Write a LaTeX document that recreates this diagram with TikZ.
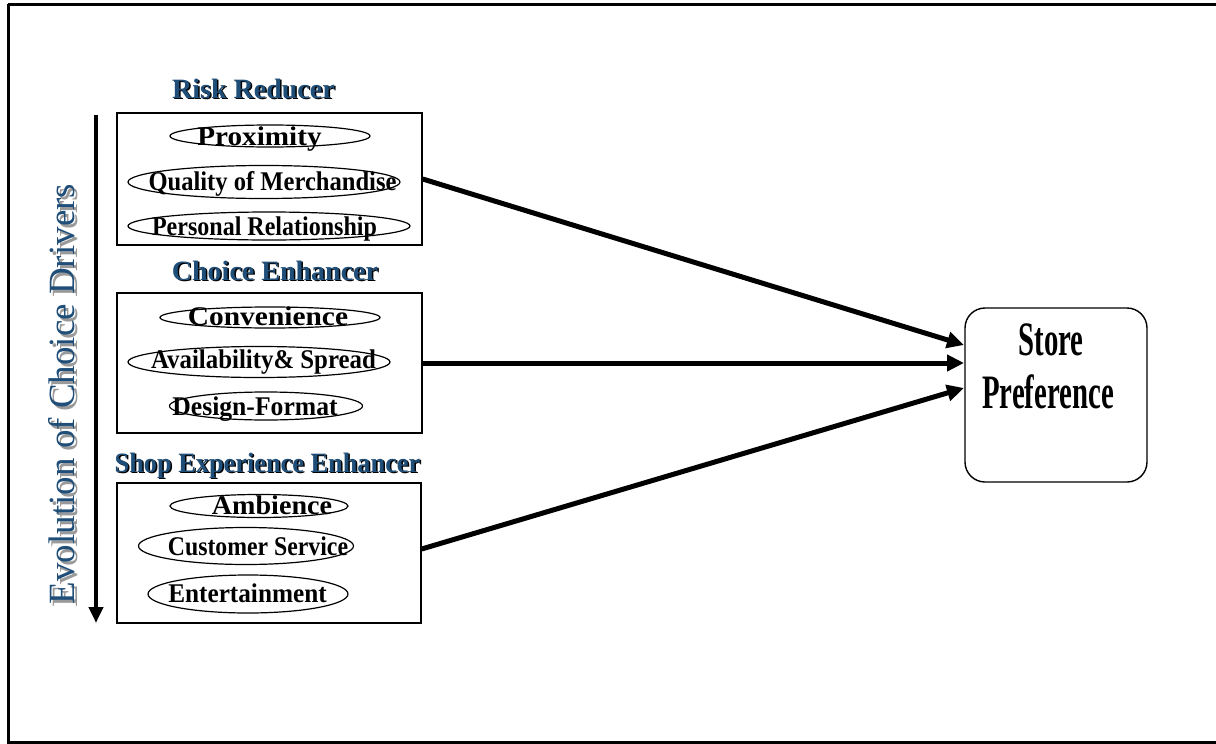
\documentclass[tikz,border=0pt]{standalone}
\usepackage{fontspec}
\usepackage{graphicx}
\setmainfont{Liberation Serif}
\usetikzlibrary{shapes.geometric,arrows.meta}
\definecolor{tblue}{HTML}{1F4E79}
\definecolor{shgray}{HTML}{9A9A9A}
\tikzset{
  frame/.style={draw=black, line width=3pt},
  groupbox/.style={draw=black, line width=1.4pt, rectangle, inner sep=0pt},
  oval/.style={draw=black, line width=1.2pt, ellipse, inner sep=0pt},
  ovaltext/.style={anchor=base, inner sep=0pt, font=\bfseries\fontsize{27}{30}\selectfont},
  titletext/.style={anchor=base, inner sep=0pt, text=tblue, font=\bfseries\fontsize{28}{32}\selectfont},
  titleshadow/.style={anchor=base, inner sep=0pt, text=black, font=\bfseries\fontsize{28}{32}\selectfont},
  flow/.style={line width=5pt, -{Triangle[length=17pt,width=16pt]}},
  storebox/.style={draw=black, line width=1.4pt, rounded corners=20pt, rectangle, inner sep=0pt},
  storetext/.style={anchor=base, inner sep=0pt, font=\bfseries\fontsize{48}{50}\selectfont}
}
\begin{document}
\begin{tikzpicture}[x=1pt,y=-1pt]
\useasboundingbox (0,0) rectangle (1216,744);
\draw[frame] (8,4) -- (1240,4);
\draw[frame] (8,4) -- (8,742.5) -- (1240,742.5);

% vertical arrow and label
\coordinate (vtop) at (96,115);
\coordinate (vbot) at (96,623);
\draw[line width=4pt, -{Triangle[length=16pt,width=14pt]}] (vtop) -- (vbot);
\node[anchor=base, rotate=90, inner sep=0pt, text=shgray, font=\fontsize{37}{40}\selectfont] (evs) at (77.5,397) {Evolution of Choice Drivers};
\node[anchor=base, rotate=90, inner sep=0pt, text=tblue, font=\fontsize{37}{40}\selectfont] (ev) at (74,394) {Evolution of Choice Drivers};

% group boxes
\node[groupbox, minimum width=305pt, minimum height=132pt] (b1) at (269.5,179) {};
\node[groupbox, minimum width=305pt, minimum height=140pt] (b2) at (269.5,363) {};
\node[groupbox, minimum width=304pt, minimum height=140pt] (b3) at (269,553) {};

% titles
\node[titleshadow] (t1s) at (255,99.5) {\scalebox{1.0}[1]{Risk Reducer}};
\node[titletext] (t1) at (253.5,98) {\scalebox{1.0}[1]{Risk Reducer}};
\node[titleshadow] (t2s) at (276.5,281.5) {Choice Enhancer};
\node[titletext] (t2) at (275,280) {Choice Enhancer};
\node[titleshadow] (t3s) at (269,473.5) {\scalebox{0.94}[1]{Shop Experience Enhancer}};
\node[titletext] (t3) at (267.5,472) {\scalebox{0.94}[1]{Shop Experience Enhancer}};

% ovals group 1
\node[oval, minimum width=200pt, minimum height=22pt] (e11) at (270,136) {};
\node[ovaltext] (x11) at (259.5,145) {\scalebox{1.08}[1]{Proximity}};
\node[oval, minimum width=272pt, minimum height=33pt] (e12) at (264,182) {};
\node[ovaltext] (x12) at (272.5,190) {\scalebox{0.91}[1]{Quality of Merchandise}};
\node[oval, minimum width=282pt, minimum height=28pt] (e13) at (269,226) {};
\node[ovaltext] (x13) at (264.5,235) {\scalebox{0.89}[1]{Personal Relationship}};

% ovals group 2
\node[oval, minimum width=220pt, minimum height=21pt] (e21) at (270,317.5) {};
\node[ovaltext] (x21) at (268,325) {\scalebox{1.09}[1]{Convenience}};
\node[oval, minimum width=262pt, minimum height=31pt] (e22) at (259,362) {};
\node[ovaltext] (x22) at (263.5,368) {\scalebox{0.92}[1]{Availability\& Spread}};
\node[oval, minimum width=193pt, minimum height=28pt] (e23) at (266,406) {};
\node[ovaltext] (x23) at (255,415) {\scalebox{0.95}[1]{Design-Format}};

% ovals group 3
\node[oval, minimum width=178pt, minimum height=23pt] (e31) at (259,506) {};
\node[ovaltext] (x31) at (272,514) {\scalebox{1.04}[1]{Ambience}};
\node[oval, minimum width=215pt, minimum height=37pt] (e32) at (246,546) {};
\node[ovaltext] (x32) at (258,555) {\scalebox{0.88}[1]{Customer Service}};
\node[oval, minimum width=200pt, minimum height=38pt] (e33) at (248,594) {};
\node[ovaltext] (x33) at (247.5,602) {\scalebox{0.935}[1]{Entertainment}};

% store preference
\node[storebox, minimum width=182pt, minimum height=174pt] (sp) at (1056,395) {};
\node[storetext] (sp1) at (1051,355) {\scalebox{0.6}[1]{Store}};
\node[storetext] (sp2) at (1048,408) {\scalebox{0.6}[1]{Preference}};

% arrows
\coordinate (a1) at (964,345);
\coordinate (a2) at (964,363);
\coordinate (a3) at (964,388);
\draw[flow] (b1.east) -- (a1);
\draw[flow] (b2.east) -- (a2);
\draw[flow] (b3.east |- 0,549) -- (a3);
\end{tikzpicture}
\end{document}
